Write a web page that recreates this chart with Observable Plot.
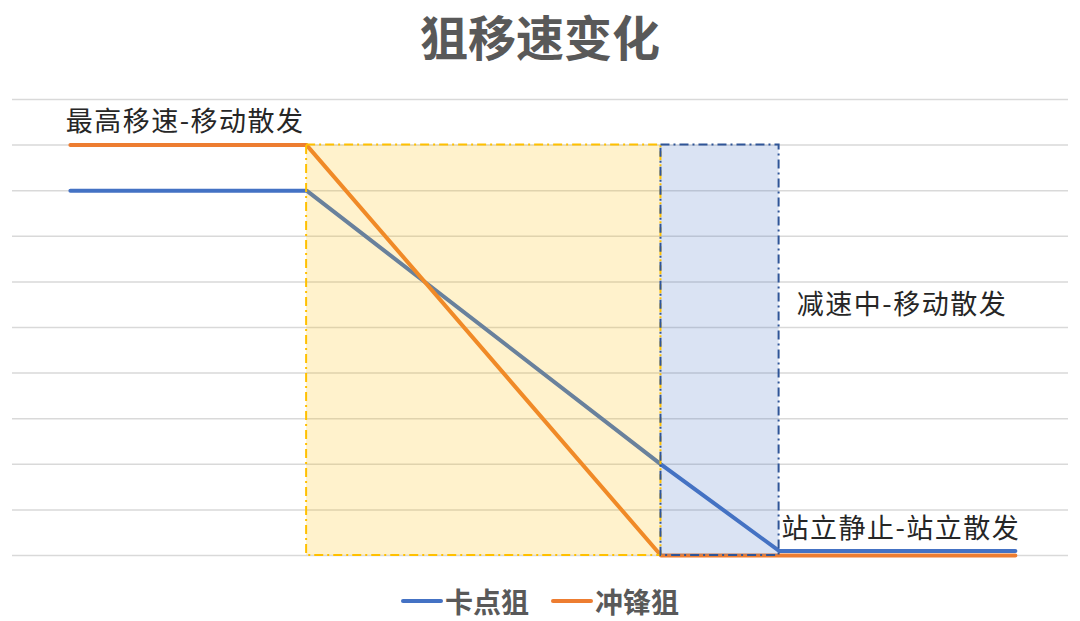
<!DOCTYPE html>
<html>
<head>
<meta charset="utf-8">
<script src="https://cdn.jsdelivr.net/npm/d3@7"></script>
<script src="https://cdn.jsdelivr.net/npm/@observablehq/plot@0.6"></script>
<style>
  html, body { margin: 0; padding: 0; background: #fff; }
  body { width: 1080px; height: 621px; overflow: hidden; font-family: "Noto Sans CJK SC", "Noto Sans", sans-serif; }
  #title { height: 75px; line-height: 70px; text-align: center; font-size: 48px; font-weight: bold; color: #595959; }
  #legend { display: flex; justify-content: center; align-items: center; gap: 22px; height: 41px; font-size: 28px; font-weight: bold; color: #595959; }
  .item { display: flex; align-items: center; gap: 2px; }
  .sw { width: 42px; height: 4px; border-radius: 2px; display: inline-block; }
  svg { display: block; }
  #chart text { letter-spacing: 1.5px; }
</style>
</head>
<body>
<div id="title">狙移速变化</div>
<div id="chart"></div>
<div id="legend"></div>
<script>
// Data
const steps = [0, 2, 5, 6, 8];
const kadianju = [8, 8, 2, 0.1, 0.1];       // 卡点狙
const chongfengju = [9, 9, 0, 0, 0];        // 冲锋狙
const seriesNames = ["卡点狙", "冲锋狙"];
const seriesColors = ["#4472c4", "#ed7d31"];
const gridValues = [0, 1, 2, 3, 4, 5, 6, 7, 8, 9, 10];

// Phase regions
const phaseStart = [2, 5];
const phaseEnd = [5, 6];
const phaseTop = [9, 9];
const phaseFill = ["#ffc000", "#4472c4"];
const phaseStroke = ["#ffc000", "#2f5597"];

// Annotations
const labelText = ["最高移速-移动散发", "减速中-移动散发", "站立静止-站立散发"];
const labelX = [-0.04, 6.15, 6.02];
const labelY = [9.5, 5.48, 0.58];

const lineData = [];
steps.forEach((s, i) => {
  lineData.push({series: seriesNames[0], x: s, y: kadianju[i]});
});
steps.forEach((s, i) => {
  lineData.push({series: seriesNames[1], x: s, y: chongfengju[i]});
});
const phases = phaseStart.map((s, i) => ({x1: s, x2: phaseEnd[i], y1: 0, y2: phaseTop[i], fill: phaseFill[i], stroke: phaseStroke[i]}));
const labels = labelText.map((t, i) => ({text: t, x: labelX[i], y: labelY[i]}));

const chart = Plot.plot({
  width: 1080,
  height: 505,
  marginTop: 24,
  marginBottom: 25,
  marginLeft: 12,
  marginRight: 12,
  x: {domain: [-0.49, 8.45], axis: null},
  y: {domain: [0, 10], axis: null},
  marks: [
    Plot.ruleY(gridValues, {stroke: "#d9d9d9", strokeWidth: 1.5}),
    Plot.line(lineData.filter(d => d.series === seriesNames[0]), {x: "x", y: "y", stroke: seriesColors[0], strokeWidth: 4, strokeLinecap: "round", strokeLinejoin: "round"}),
    Plot.line(lineData.filter(d => d.series === seriesNames[1]), {x: "x", y: "y", stroke: seriesColors[1], strokeWidth: 4, strokeLinecap: "round", strokeLinejoin: "round"}),
    Plot.rect(phases, {x1: "x1", x2: "x2", y1: "y1", y2: "y2", fill: d => d.fill, fillOpacity: 0.2}),
    Plot.rect(phases, {x1: "x1", x2: "x2", y1: "y1", y2: "y2", fill: "none", stroke: d => d.stroke, strokeWidth: 2, strokeDasharray: "9,4,2,4"}),
    Plot.text(labels, {x: "x", y: "y", text: "text", textAnchor: "start", fontSize: 27, fill: "#262626", fontFamily: "Noto Sans CJK SC"})
  ]
});
document.getElementById("chart").appendChild(chart);

const legend = document.getElementById("legend");
seriesNames.forEach((n, i) => {
  const item = document.createElement("div");
  item.className = "item";
  const sw = document.createElement("span");
  sw.className = "sw";
  sw.style.background = seriesColors[i];
  const t = document.createElement("span");
  t.textContent = n;
  item.appendChild(sw);
  item.appendChild(t);
  legend.appendChild(item);
});
</script>
</body>
</html>
